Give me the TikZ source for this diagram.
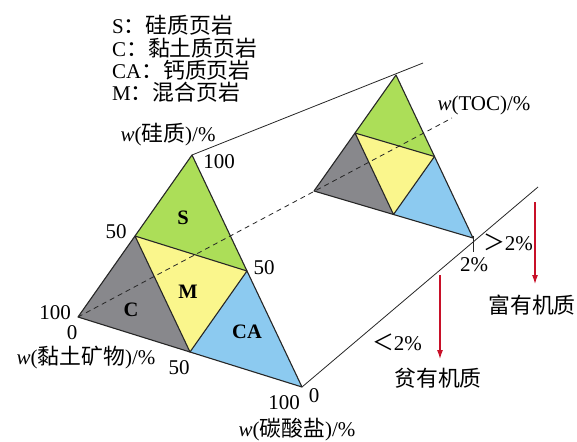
\documentclass[tikz,border=0pt]{standalone}
\usepackage{fontspec}
\setmainfont{Liberation Serif}
\newfontfamily\cjk[Scale=1.04]{Noto Sans CJK SC}
\usetikzlibrary{arrows.meta,calc}
\definecolor{cS}{RGB}{172,222,88}
\definecolor{cC}{RGB}{136,136,140}
\definecolor{cM}{RGB}{250,246,140}
\definecolor{cCA}{RGB}{140,202,240}
\definecolor{cred}{RGB}{200,16,40}
\begin{document}
\begin{tikzpicture}[x=1pt,y=-1pt,
  every node/.style={font=\fontsize{21}{24}\selectfont, inner sep=0pt},
  edge/.style={draw=black!85, line width=1.1pt, line join=round},
  thin/.style={draw=black!85, line width=0.8pt},
  hid/.style={draw=black!85, line width=0.8pt, dashed, dash pattern=on 5pt off 4pt},
  redarrow/.style={draw=cred, line width=1.1pt, -{Latex[length=9pt,width=6pt]}},
  zone/.style={font=\fontsize{20.5}{22}\selectfont\bfseries},
  lab/.style={font=\fontsize{21}{24}\selectfont}]
\useasboundingbox (0,0) rectangle (577,441);
% front triangle
\coordinate (T) at (192,155);
\coordinate (L) at (78,317);
\coordinate (R) at (302,387);
\coordinate (TL) at ($ (T)!0.5!(L) $);
\coordinate (TR) at ($ (T)!0.5!(R) $);
\coordinate (LR) at ($ (L)!0.5!(R) $);
% back triangle
\coordinate (T2) at (396,75);
\coordinate (L2) at (314,191);
\coordinate (R2) at (473,238);
\coordinate (TL2) at ($ (T2)!0.5!(L2) $);
\coordinate (TR2) at ($ (T2)!0.5!(R2) $);
\coordinate (LR2) at ($ (L2)!0.5!(R2) $);
% extension ends
\coordinate (Te) at (423,63);
\coordinate (Re) at (538,187);
\coordinate (Le) at (452,118);
% back triangle
\fill[cS] (T2) -- (TL2) -- (TR2) -- cycle;
\fill[cC] (L2) -- (TL2) -- (LR2) -- cycle;
\fill[cM] (TL2) -- (TR2) -- (LR2) -- cycle;
\fill[cCA] (TR2) -- (R2) -- (LR2) -- cycle;
\path[edge] (T2) -- (L2) -- (R2) -- cycle;
\path[edge] (TL2) -- (TR2) -- (LR2) -- cycle;
% front triangle
\fill[cS] (T) -- (TL) -- (TR) -- cycle;
\fill[cC] (L) -- (TL) -- (LR) -- cycle;
\fill[cM] (TL) -- (TR) -- (LR) -- cycle;
\fill[cCA] (TR) -- (R) -- (LR) -- cycle;
\path[edge] (T) -- (L) -- (R) -- cycle;
\path[edge] (TL) -- (TR) -- (LR) -- cycle;
% connecting lines
\path[thin] (T) -- (Te);
\path[thin] (R) -- (Re);
\path[hid] (L) -- (Le);
% tick
\coordinate (tk1) at (473,236);
\coordinate (tk2) at (473,252);
\path[thin] (tk1) -- (tk2);
% zone labels
\node[zone] (nS) at (183,218) {S};
\node[zone] (nM) at (188,292) {M};
\node[zone] (nC) at (131,310) {C};
\node[zone] (nCA) at (247,332) {CA};
% axis numbers
\node[lab] (n100t) at (219,162) {100};
\node[lab] (n50l) at (116,232) {50};
\node[lab] (n50r) at (264,268) {50};
\node[lab] (n100l) at (55,313) {100};
\node[lab] (n0l) at (72,333) {0};
\node[lab] (n50b) at (179,368) {50};
\node[lab] (n100b) at (284,403) {100};
\node[lab] (n0r) at (314,396) {0};
% axis titles
\node[lab] (wSi) at (168,135) {\textit{w}({\cjk 硅质})/\%};
\node[lab] (wCl) at (86,358) {\textit{w}({\cjk 黏土矿物})/\%};
\node[lab] (wCa) at (297,430) {\textit{w}({\cjk 碳酸盐})/\%};
\node[lab] (wTOC) at (484,105) {\textit{w}(TOC)/\%};
\node[lab] (gt2) at (508,242) {{\cjk ＞}2\%};
\node[lab] (eq2) at (474,265) {2\%};
\node[lab] (lt2) at (397,342) {{\cjk ＜}2\%};
% arrows
\coordinate (a1s) at (535,202);
\coordinate (a1e) at (535,284);
\coordinate (a2s) at (440,275);
\coordinate (a2e) at (440,359);
\path[redarrow] (a1s) -- (a1e);
\path[redarrow] (a2s) -- (a2e);
\node[lab] (rich) at (532,305) {\cjk 富有机质};
\node[lab] (poor) at (438,378) {\cjk 贫有机质};
% legend
\node[lab, anchor=west] (lg1) at (112,25) {S{\cjk ：硅质页岩}};
\node[lab, anchor=west] (lg2) at (112,48) {C{\cjk ：黏土质页岩}};
\node[lab, anchor=west] (lg3) at (112,70) {CA{\cjk ：钙质页岩}};
\node[lab, anchor=west] (lg4) at (112,92) {M{\cjk ：混合页岩}};
\end{tikzpicture}
\end{document}
